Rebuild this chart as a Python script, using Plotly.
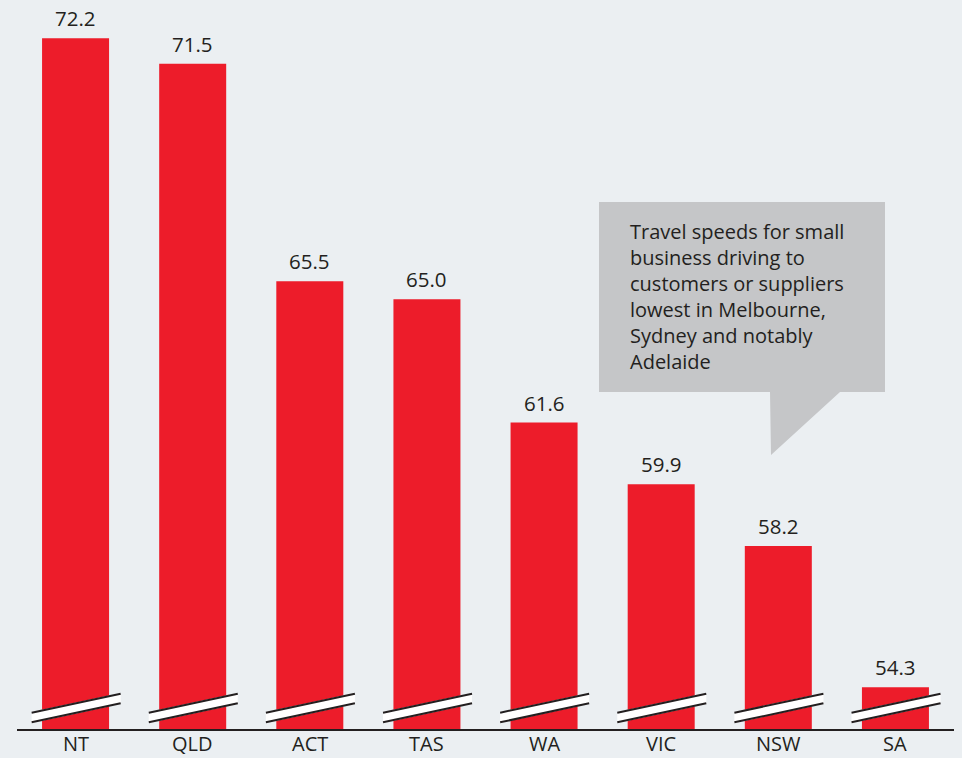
import plotly.graph_objects as go

# Average travel speed by state/territory
states = ["NT", "QLD", "ACT", "TAS", "WA", "VIC", "NSW", "SA"]
speeds = [72.2, 71.5, 65.5, 65.0, 61.6, 59.9, 58.2, 54.3]
labels = ["72.2", "71.5", "65.5", "65.0", "61.6", "59.9", "58.2", "54.3"]

callout_lines = ["Travel speeds for small", "business driving to",
                 "customers or suppliers", "lowest in Melbourne,",
                 "Sydney and notably", "Adelaide"]

BG = "#EBEFF2"
RED = "#ED1C2A"
INK = "#231F20"
FONT = "Open Sans"

W, H = 962, 758
ML, MR, MT, MB = 17, 8, 0, 29
PW, PH = W - ML - MR, H - MT - MB


def px_x(px):
    return (px - ML) / PW


def px_y(py):
    return (H - MB - py) / PH


fig = go.Figure()
fig.add_trace(go.Bar(
    x=states, y=speeds, marker=dict(color=RED, line=dict(width=0)),
    hoverinfo="x+y",
))

# value labels above bars
for s, v, t in zip(states, speeds, labels):
    fig.add_annotation(x=s, y=v, text=t, showarrow=False, yanchor="bottom",
                       yshift=4, font=dict(family=FONT, size=20.5, color=INK))

# category labels under the axis line, kept inside the page edge
for s in states:
    fig.add_annotation(x=s, xref="x", yref="paper", y=px_y(H), yanchor="bottom",
                       borderpad=0, showarrow=False, text=s,
                       font=dict(family=FONT, size=20, color=INK))

shapes = []
# axis-break markers at the base of each bar
for i in range(len(states)):
    x0, x1 = i - 0.375, i + 0.385
    yb0, yb1 = px_y(723), px_y(704)   # lower edge (left, right)
    yt0, yt1 = px_y(712), px_y(693)   # upper edge (left, right)
    shapes.append(dict(type="path", xref="x", yref="paper",
                       path=f"M {x0},{yb0} L {x1},{yb1} L {x1},{yt1} L {x0},{yt0} Z",
                       fillcolor="white", line=dict(width=0), layer="above"))
    shapes.append(dict(type="line", xref="x", yref="paper", x0=x0, x1=x1,
                       y0=px_y(722.3), y1=px_y(703.3), line=dict(color=INK, width=2)))
    shapes.append(dict(type="line", xref="x", yref="paper", x0=x0, x1=x1,
                       y0=px_y(712.7), y1=px_y(693.7), line=dict(color=INK, width=2)))

# speech-bubble callout
pts = [(599, 202), (885, 202), (885, 392), (840, 392), (771, 455), (770, 392), (599, 392)]
path = "M " + " L ".join(f"{px_x(a)},{px_y(b)}" for a, b in pts) + " Z"
shapes.append(dict(type="path", xref="paper", yref="paper", path=path,
                   fillcolor="#C5C6C8", line=dict(width=0), layer="above"))

fig.add_annotation(xref="paper", yref="paper", x=px_x(628), y=px_y(216),
                   xanchor="left", yanchor="top", align="left", showarrow=False,
                   text="<br>".join(callout_lines),
                   font=dict(family=FONT, size=20, color=INK))

fig.update_layout(
    width=W, height=H,
    margin=dict(l=ML, r=MR, t=MT, b=MB, autoexpand=False),
    paper_bgcolor=BG, plot_bgcolor=BG,
    bargap=0.428, showlegend=False,
    shapes=shapes,
    xaxis=dict(range=[-0.5, 7.5], showline=True, linecolor=INK, linewidth=2,
               ticks="", showgrid=False, zeroline=False, showticklabels=False,
               automargin=False),
    yaxis=dict(range=[53.15, 73.256], visible=False, showgrid=False, zeroline=False,
               automargin=False),
)

fig.write_html("out.html")
